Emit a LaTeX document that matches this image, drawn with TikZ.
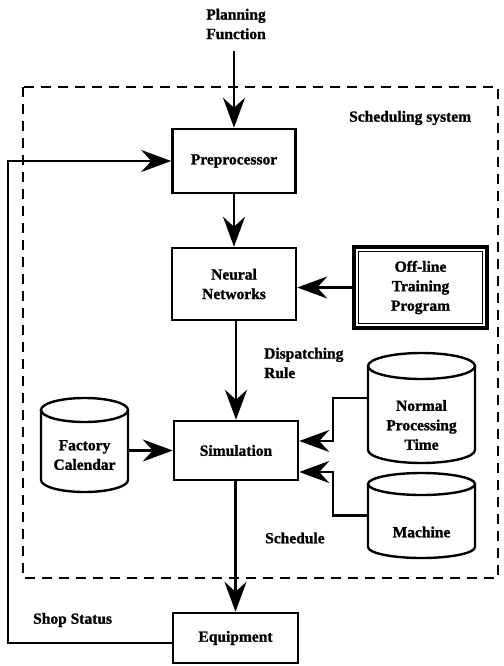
\documentclass[tikz,border=0pt]{standalone}
\usepackage{fontspec}
\setmainfont{Liberation Serif}[BoldFeatures={FakeBold=1.2}]
\usetikzlibrary{arrows.meta}
\begin{document}
\begin{tikzpicture}[x=1pt,y=-1pt,
  lbl/.style={font=\bfseries\fontsize{15.5}{19.5}\selectfont, align=center, inner sep=0pt},
  box/.style={draw, line width=2.5pt, lbl},
  arr/.style={line width=2.4pt, -{Stealth[length=30pt,width=22pt,inset=10pt]}},
  cyl/.style={line width=2.4pt},
  anchorbox/.style={inner sep=0pt, draw=none}]
\useasboundingbox (0,0) rectangle (503,666);

% dashed system border
\draw[line width=2.4pt, dash pattern=on 10pt off 7pt] (23,87) rectangle (498,578);
\node[lbl, anchor=west] (ss) at (349,118) {Scheduling system};

% main boxes
\node[lbl] (plan) at (236,24) {Planning\\Function};
\node[box, minimum width=123pt, minimum height=64pt] (pre) at (234,161) {Preprocessor};
\node[box, minimum width=124pt, minimum height=72pt] (nn) at (234,284) {Neural\\Networks};
\node[box, minimum width=124pt, minimum height=59pt] (sim) at (236,450.5) {Simulation};
\node[box, minimum width=125pt, minimum height=50pt] (equip) at (235.5,638) {Equipment};

% off-line training program (double frame)
\node[box, line width=3.2pt, minimum width=133pt, minimum height=81pt] (off) at (420.5,287.5) {Off-line\\Training\\Program};
\draw[line width=1.3pt] ([shift={(6pt,-6pt)}]off.north west) rectangle ([shift={(-6pt,6pt)}]off.south east);

% cylinders
\node[anchorbox, minimum width=87pt, minimum height=94pt] (fc) at (84.5,445) {};
\draw[cyl] (84.5,410) ellipse [x radius=43.5pt, y radius=12pt];
\draw[cyl] (41,410) -- (41,480) arc[start angle=180, end angle=360, x radius=43.5pt, y radius=12pt] -- (128,410);
\node[lbl] (fct) at (84.5,455) {Factory\\Calendar};

\node[anchorbox, minimum width=107pt, minimum height=110pt] (npt) at (421.5,408) {};
\draw[cyl] (421.5,366) ellipse [x radius=53.5pt, y radius=13pt];
\draw[cyl] (368,366) -- (368,450) arc[start angle=180, end angle=360, x radius=53.5pt, y radius=13pt] -- (475,366);
\node[lbl] (nptt) at (421.5,425) {Normal\\Processing\\Time};

\node[anchorbox, minimum width=107pt, minimum height=85pt] (mach) at (421.5,515.5) {};
\draw[cyl] (421.5,484) ellipse [x radius=53.5pt, y radius=11pt];
\draw[cyl] (368,484) -- (368,547) arc[start angle=180, end angle=360, x radius=53.5pt, y radius=11pt] -- (475,484);
\node[lbl] (macht) at (421.5,532) {Machine};

% labels
\node[lbl, align=left, anchor=west] (disp) at (264,363) {Dispatching\\Rule};
\node[lbl, anchor=west] (sched) at (265,538) {Schedule};
\node[lbl, anchor=west] (shop) at (33,620) {Shop Status};

% connectors
\draw[arr] ([yshift=-12pt]plan.south -| pre.north) -- (pre.north);
\draw[arr] (pre.south) -- (nn.north);
\draw[arr] (off.west) -- (off.west -| nn.east);
\draw[arr] (nn.south -| sim.north) -- (sim.north);
\draw[arr] (sim.west -| fc.east) -- (sim.west);
\coordinate (nj) at (333,441);
\draw[arr] ([yshift=10pt]npt.west) -| (nj) -- (nj -| sim.east);
\coordinate (mj) at (333,472);
\draw[arr] (mach.west) -| (mj) -- (mj -| sim.east);
\draw[arr] (sim.south -| equip.north) -- (equip.north);
\coordinate (fb) at (8,161);
\draw[arr] ([yshift=-5pt]equip.west) -| (fb) -- (pre.west);
\end{tikzpicture}
\end{document}
